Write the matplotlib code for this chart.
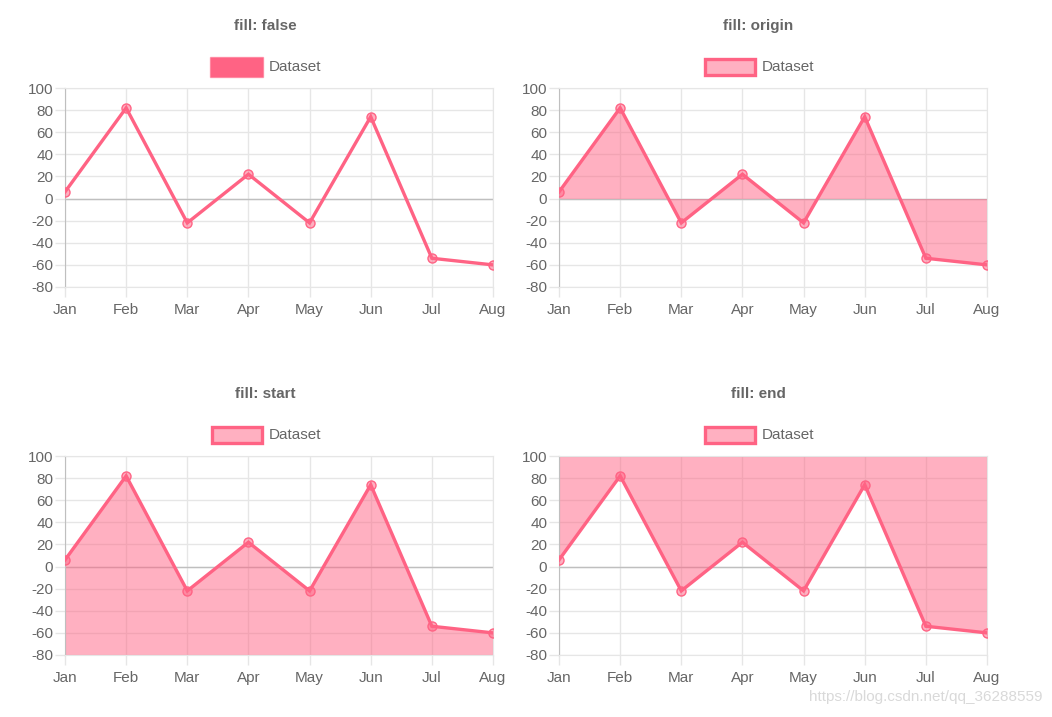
import matplotlib
matplotlib.use('Agg')
import matplotlib.pyplot as plt
from matplotlib.patches import Rectangle

plt.rcParams['font.family'] = ['Liberation Sans', 'DejaVu Sans']

# Data
months = ['Jan', 'Feb', 'Mar', 'Apr', 'May', 'Jun', 'Jul', 'Aug']
values = [6, 82, -22, 22, -22, 74, -54, -60]
y_ticks = [100, 80, 60, 40, 20, 0, -20, -40, -60, -80]
fill_modes = ['false', 'origin', 'start', 'end']

LINE = '#ff6384'
FILL = (1.0, 99 / 255, 132 / 255, 0.5)
GRID = '#e6e6e6'
TEXT = '#666666'

W, H = 1052, 717
fig = plt.figure(figsize=(W / 100, H / 100), dpi=100)

# panel geometry in pixels: (left, top, right, bottom, title_y, legend_y, center_x)
panels = [
    (65, 88, 493, 287, 26, 67, 265),
    (559, 88, 987, 287, 26, 67, 758),
    (65, 456, 493, 655, 394, 435, 265),
    (559, 456, 987, 655, 394, 435, 758),
]

x = list(range(len(months)))

for mode, (l, t, r, b, ty, ly, cx) in zip(fill_modes, panels):
    ax = fig.add_axes([l / W, 1 - b / H, (r - l) / W, (b - t) / H])
    ax.set_xlim(0, len(months) - 1)
    ax.set_ylim(-80, 100)

    # fill according to mode
    if mode == 'origin':
        ax.fill_between(x, values, 0, color=FILL, lw=0, zorder=2)
    elif mode == 'start':
        ax.fill_between(x, values, -80, color=FILL, lw=0, zorder=2)
    elif mode == 'end':
        ax.fill_between(x, values, 100, color=FILL, lw=0, zorder=2)

    ax.axhline(0, color='#bfbfbf', lw=1, zorder=1.6)
    ax.plot(x, values, color=LINE, lw=2.4, zorder=3, solid_joinstyle='miter')
    ax.plot(x, values, ls='none', marker='o', ms=6.5, mfc=FILL, mec=LINE,
            mew=1.0, zorder=4)

    ax.set_xticks(x)
    ax.set_xticklabels(months)
    ax.set_yticks(y_ticks)
    ax.set_yticklabels([str(v) for v in y_ticks])
    ax.grid(True, color=GRID, lw=1)
    ax.tick_params(axis='both', length=7.5, width=1, color=GRID,
                   labelcolor=TEXT, labelsize=11)
    ax.tick_params(axis='y', pad=1)
    ax.tick_params(axis='x', pad=4)
    for side in ['top', 'right', 'bottom']:
        ax.spines[side].set_color(GRID)
    ax.spines['left'].set_color('#bfbfbf')

    # title
    fig.text(cx / W, 1 - ty / H, 'fill: ' + mode, ha='center', va='center',
             fontsize=11, fontweight='bold', color=TEXT)

    # legend
    bx = cx - 55
    if mode == 'false':
        rect = Rectangle((bx / W, 1 - (ly + 9.5) / H), 53 / W, 19 / H,
                         transform=fig.transFigure, facecolor=LINE,
                         edgecolor=FILL, lw=1)
    else:
        rect = Rectangle((bx / W + 1.5 / W, 1 - (ly + 8) / H), 50 / W, 16 / H,
                         transform=fig.transFigure, facecolor=FILL,
                         edgecolor=LINE, lw=2.4)
    fig.patches.append(rect)
    fig.text((bx + 59) / W, 1 - ly / H, 'Dataset', ha='left', va='center',
             fontsize=11, color=TEXT)

fig.text(1043 / W, 1 - 697 / H, 'https://blog.csdn.net/qq_36288559',
         ha='right', va='center', fontsize=11, color='#d9d9d9')

fig.savefig('out.png', dpi=100)
